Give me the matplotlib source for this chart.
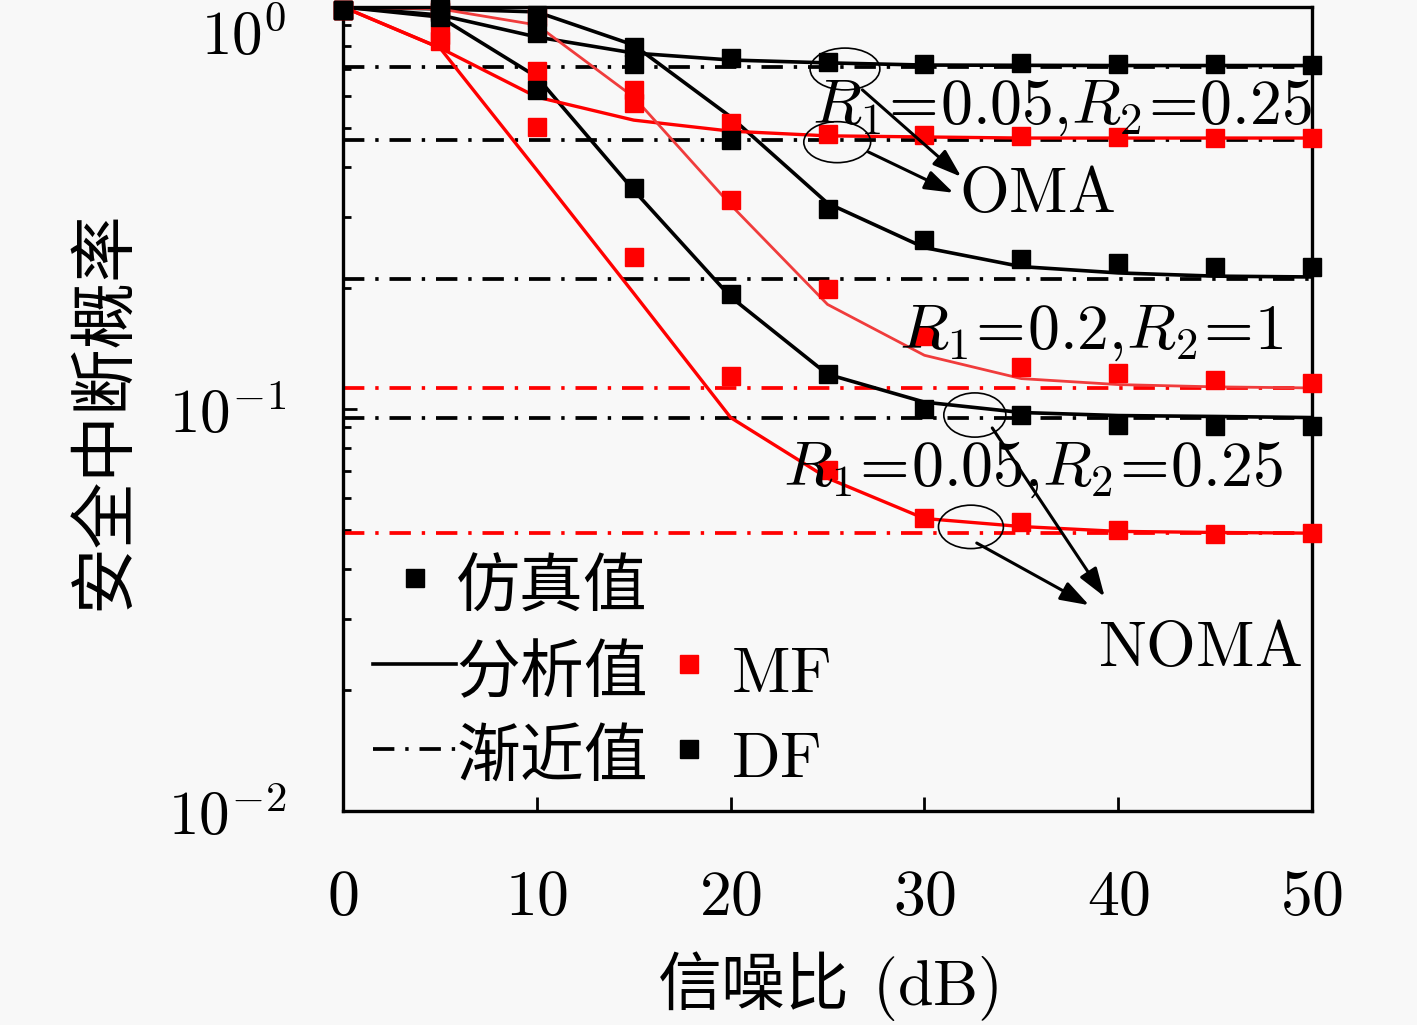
import matplotlib
matplotlib.use('Agg')
import matplotlib.pyplot as plt
from matplotlib.lines import Line2D
from matplotlib.patches import Ellipse
from matplotlib.ticker import NullFormatter

plt.rcParams['font.family'] = ['Noto Sans CJK SC', 'DejaVu Sans']
plt.rcParams['mathtext.fontset'] = 'cm'
plt.rcParams['axes.unicode_minus'] = False

# SNR (dB)
snr = [0, 5, 10, 15, 20, 25, 30, 35, 40, 45, 50]

# DF, NOMA, R1=0.05, R2=0.25
df_noma_a_ana = [1.0, 0.944, 0.670, 0.350, 0.190, 0.122, 0.104, 0.098, 0.0963, 0.0958, 0.0952]
df_noma_a_sim = [0.98, 0.944, 0.622, 0.354, 0.193, 0.122, 0.0998, 0.0968, 0.0910, 0.0906, 0.0906]
df_noma_a_asym = 0.0952
# DF, NOMA, R1=0.2, R2=1
df_noma_b_ana = [1.0, 0.989, 0.972, 0.804, 0.533, 0.325, 0.252, 0.226, 0.218, 0.214, 0.213]
df_noma_b_sim = [0.98, 0.994, 0.955, 0.795, 0.467, 0.314, 0.263, 0.236, 0.231, 0.226, 0.225]
df_noma_b_asym = 0.211
# DF, OMA, R1=0.05, R2=0.25
df_oma_ana = [1.0, 0.955, 0.842, 0.768, 0.738, 0.726, 0.717, 0.716, 0.715, 0.715, 0.715]
df_oma_sim = [0.98, 0.972, 0.862, 0.721, 0.747, 0.730, 0.721, 0.726, 0.721, 0.721, 0.717]
df_oma_asym = 0.709
# MF, NOMA, R1=0.05, R2=0.25
mf_noma_a_ana = [1.0, 0.791, 0.393, 0.194, 0.0952, 0.0673, 0.0534, 0.0510, 0.0496, 0.0493, 0.0491]
mf_noma_a_sim = [0.98, 0.823, 0.503, 0.239, 0.121, 0.0704, 0.0537, 0.0522, 0.0499, 0.0488, 0.0491]
mf_noma_a_asym = 0.0491
# MF, NOMA, R1=0.2, R2=1
mf_noma_b_ana = [1.0, 0.989, 0.902, 0.597, 0.322, 0.182, 0.136, 0.119, 0.115, 0.1135, 0.1128]
mf_noma_b_sim = [0.98, 0.98, 0.944, 0.622, 0.331, 0.199, 0.152, 0.127, 0.123, 0.118, 0.116]
mf_noma_b_asym = 0.1128
# MF, OMA, R1=0.05, R2=0.25
mf_oma_ana = [1.0, 0.791, 0.597, 0.523, 0.491, 0.478, 0.475, 0.472, 0.472, 0.472, 0.472]
mf_oma_sim = [0.98, 0.852, 0.693, 0.577, 0.515, 0.483, 0.480, 0.478, 0.475, 0.472, 0.472]
mf_oma_asym = 0.467

xticks = [0, 10, 20, 30, 40, 50]
yticks = [1e-2, 1e-1, 1]
ytick_labels = [r'$10^{-2}$', r'$10^{-1}$', r'$10^{0}$']

bg = '#f8f8f8'
red = '#ff0000'
pink = '#f03c3c'
fs = 46
ms = 13.5
asym_ls = (0, (5.7, 2.9, 0.9, 2.9))

fig = plt.figure(figsize=(14.17, 10.25), dpi=100, facecolor=bg)
ax = fig.add_axes([0.2421, 0.2088, 0.6838, 0.7844])
ax.set_facecolor(bg)
ax.set_yscale('log')
ax.set_xlim(0, 50)
ax.set_ylim(1e-2, 1)

# asymptotes
for v, c in [(df_oma_asym, 'k'), (mf_oma_asym, 'k'), (df_noma_b_asym, 'k'),
             (df_noma_a_asym, 'k'), (mf_noma_b_asym, red), (mf_noma_a_asym, red)]:
    ax.hlines(v, snr[0], snr[-1], colors=c, linewidth=2.7, linestyles=asym_ls)

# analytic curves
ax.plot(snr, df_oma_ana, color='k', lw=2.6)
ax.plot(snr, df_noma_b_ana, color='k', lw=2.6)
ax.plot(snr, df_noma_a_ana, color='k', lw=2.6)
ax.plot(snr, mf_oma_ana, color=red, lw=2.4)
ax.plot(snr, mf_noma_b_ana, color=pink, lw=2.0)
ax.plot(snr, mf_noma_a_ana, color=red, lw=2.4)

# simulation points
for sim, c in [(mf_oma_sim, red), (mf_noma_b_sim, red), (mf_noma_a_sim, red),
               (df_oma_sim, 'k'), (df_noma_b_sim, 'k'), (df_noma_a_sim, 'k')]:
    ax.plot(snr, sim, ls='none', marker='s', ms=ms, color=c, mec=c, clip_on=False, zorder=3)

# axes style
for side in ['left', 'right', 'top', 'bottom']:
    ax.spines[side].set_linewidth(2.4)
ax.set_xticks(xticks, labels=[f'${t}$' for t in xticks])
ax.set_yticks(yticks, labels=ytick_labels)
ax.yaxis.set_minor_formatter(NullFormatter())
ax.tick_params(which='both', direction='in', top=False, right=False, labelsize=fs, width=2.0)
ax.tick_params(which='major', length=10, pad=38)
ax.tick_params(which='minor', length=6)
ax.tick_params(axis='y', which='major', pad=41, labelsize=44)
ax.get_yticklabels()[-1].set_va('top')

fig.text(105 / 1417, 0.6, '安全中断概率', rotation=90, ha='center', va='center', fontsize=48)
ax.set_xlabel(r'信噪比 $\,(\mathrm{dB})$', fontsize=fs)
ax.xaxis.set_label_coords(0.5, -0.172)


def to_axes(x, y):
    return ax.transAxes.inverted().transform(ax.transData.transform((x, y)))


# ellipses marking curve groups
for (x, y), w, h in [((25.9, 0.701), 0.072, 0.052), ((25.5, 0.461), 0.069, 0.051),
                     ((32.6, 0.0966), 0.064, 0.055), ((32.4, 0.0509), 0.067, 0.054)]:
    ax.add_patch(Ellipse(to_axes(x, y), w, h, transform=ax.transAxes,
                         fill=False, edgecolor='k', lw=1.2, zorder=5))

arrow_kw = dict(arrowstyle='-|>,head_length=0.5,head_width=0.17', color='k', lw=2.2,
                mutation_scale=35, shrinkA=0, shrinkB=0)
for start, end in [((26.8, 0.622), (31.9, 0.378)), ((27.1, 0.436), (31.5, 0.345)),
                   ((33.5, 0.0897), (39.3, 0.0341)), ((32.7, 0.0464), (38.5, 0.0325))]:
    ax.annotate('', xy=end, xytext=start, arrowprops=arrow_kw, zorder=5)

ax.text(37.1, 0.570, r'$R_1\!=\!0.05{,}R_2\!=\!0.25$', fontsize=fs, ha='center', va='center')
ax.text(38.6, 0.157, r'$R_1\!=\!0.2{,}R_2\!=\!1$', fontsize=fs, ha='center', va='center')
ax.text(35.6, 0.0717, r'$R_1\!=\!0.05{,}R_2\!=\!0.25$', fontsize=fs, ha='center', va='center')
ax.text(35.8, 0.3425, r'$\mathrm{OMA}$', fontsize=fs, ha='center', va='center')
ax.text(44.2, 0.0254, r'$\mathrm{NOMA}$', fontsize=fs, ha='center', va='center')

# legend
h_sim = Line2D([], [], ls='none', marker='s', ms=ms, color='k')
h_ana = Line2D([], [], color='k', lw=2.6)
h_asym = Line2D([], [], color='k', lw=2.7, ls=asym_ls)
h_blank = Line2D([], [], ls='none')
h_mf = Line2D([], [], ls='none', marker='s', ms=ms, color=red)
h_df = Line2D([], [], ls='none', marker='s', ms=ms, color='k')
ax.legend([h_sim, h_ana, h_asym, h_blank, h_mf, h_df],
          ['仿真值', '分析值', '渐近值', '', r'$\mathrm{MF}$', r'$\mathrm{DF}$'],
          ncol=2, loc='center left', bbox_to_anchor=(0.031, 0.174), frameon=False,
          fontsize=fs, handlelength=1.3, handleheight=1.3, handletextpad=0.0,
          columnspacing=0.0, labelspacing=0.22, borderpad=0, borderaxespad=0,
          numpoints=1)

fig.savefig('out.png', dpi=100, facecolor=bg)
